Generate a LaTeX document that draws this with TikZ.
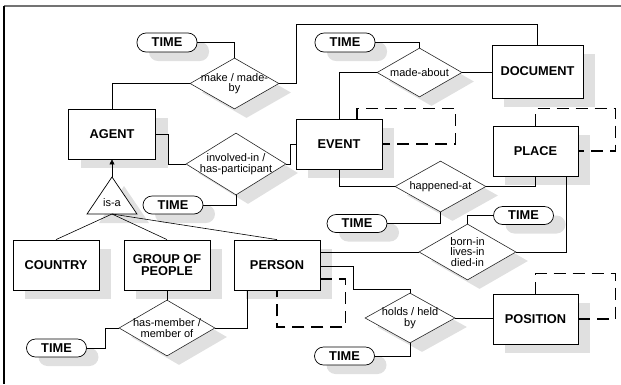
\documentclass[tikz,border=0pt]{standalone}
\usepackage{fontspec}
\setmainfont{Liberation Sans}
\usetikzlibrary{shapes.geometric,shadows,arrows.meta}
\begin{document}
\begin{tikzpicture}[x=1pt,y=-1pt,
  shad/.style={drop shadow={shadow xshift=12pt,shadow yshift=-9pt,fill=black!12,opacity=1,draw=none}},
  ent/.style={shad,draw,fill=white,line width=0.8pt,minimum width=86pt,minimum height=50pt,inner sep=0pt,align=center,font=\bfseries\fontsize{12.8}{12}\selectfont},
  rel/.style={shad,diamond,draw=black!85,fill=white,line width=0.6pt,inner sep=0pt},
  reltext/.style={align=center,font=\fontsize{11}{10.5}\selectfont,inner sep=0pt},
  tim/.style={shad,draw,fill=white,rounded corners=9pt,minimum width=60pt,minimum height=18pt,inner sep=0pt,line width=0.7pt,font=\bfseries\fontsize{12.8}{12}\selectfont},
  conn/.style={line width=0.6pt},
  loopline/.style={line width=1.5pt,dash pattern=on 12pt off 7pt}
]
\useasboundingbox (0,0) rectangle (621,384);
% frame
\draw[black!55,line width=1.5pt] (4,6) -- (621,6);
\draw[line width=1.2pt] (4,6) -- (4,384);

% entities
\node[ent,minimum width=87pt] (agent) at (112,134) {AGENT};
\node[ent] (event) at (339,144) {EVENT};
\node[ent,minimum width=91pt,minimum height=53pt] (document) at (537.5,71.5) {DOCUMENT};
\node[ent,minimum width=85pt] (place) at (535.5,151) {PLACE};
\node[ent] (country) at (56,265) {COUNTRY};
\node[ent] (group) at (167,265) {GROUP OF\\PEOPLE};
\node[ent] (person) at (277,265) {PERSON};
\node[ent,minimum width=85pt] (position) at (535.5,319) {POSITION};

% relationships
\node[rel,minimum width=89pt,minimum height=51pt] (make) at (234.5,83.5) {};
\node[reltext] (maket) at (make) {make / made-\\by};
\node[rel,minimum width=100pt,minimum height=62pt] (involved) at (236,164) {};
\node[reltext] (involvedt) at (involved) {involved-in /\\has-participant};
\node[rel,minimum width=85pt,minimum height=49pt] (madeabout) at (419.5,72.5) {};
\node[reltext] (madeaboutt) at (madeabout) {made-about};
\node[rel,minimum width=91pt,minimum height=51pt] (happened) at (440.5,186.5) {};
\node[reltext] (happenedt) at (happened) {happened-at};
\node[rel,minimum width=97pt,minimum height=56pt] (bornin) at (467.5,252) {};
\node[reltext] (bornint) at (bornin) {born-in\\lives-in\\died-in};
\node[rel,minimum width=90pt,minimum height=50pt] (holds) at (410,318) {};
\node[reltext] (holdst) at (holds) {holds / held\\by};
\node[rel,minimum width=96pt,minimum height=56pt] (hasmember) at (167,328) {};
\node[reltext] (hasmembert) at (hasmember) {has-member /\\member of};

% time attributes
\node[tim,minimum height=19pt] (time1) at (167,42.5) {TIME};
\node[tim] (time2) at (173,205) {TIME};
\node[tim,minimum height=19pt] (time3) at (345,42.5) {TIME};
\node[tim] (time4) at (357,223.5) {TIME};
\node[tim] (time5) at (523.5,215.5) {TIME};
\node[tim] (time6) at (344.5,356) {TIME};
\node[tim] (time7) at (56.5,348) {TIME};

% is-a triangle
\coordinate (isaapex) at (112,177);
\coordinate (isabl) at (87,214);
\coordinate (isabr) at (137,214);
\coordinate (isabase) at (112,214);
\fill[black!12] ([shift={(12pt,-9pt)}]isaapex) -- ([shift={(12pt,-9pt)}]isabl) -- ([shift={(12pt,-9pt)}]isabr) -- cycle;
\draw[fill=white,line width=0.7pt] (isaapex) -- (isabl) -- (isabr) -- cycle;
\node[reltext] (isa) at (112,203) {is-a};

% connectors
\coordinate (c1) at (296,24);
\draw[conn] (time1.east) -| (make.north);
\draw[conn] (agent.north) |- (make.west);
\draw[conn] (make.east) -| (c1) -| (document.north);
\draw[conn] (agent.east) -- ++(12,0) |- (involved.west);
\draw[conn] (involved.east) -- ++(4,0) |- (event.west);
\draw[conn] (involved.south) |- (time2.east);
\draw[conn] (time3.east) -| (madeabout.north);
\draw[conn] (madeabout.west) -| (event.north);
\draw[conn] (madeabout.east) -- (madeabout.east -| document.west);
\draw[conn] (event.south) |- (happened.west);
\draw[conn] (happened.east) -| (place.south);
\draw[conn] (happened.south) |- (time4.east);
\draw[conn] ([xshift=30.5pt]place.south) |- (bornin.east);
\draw[conn] (bornin.north) |- (time5.west);
\draw[conn] (bornin.west) -- (bornin.west -| person.east);
\draw[conn] ([yshift=-1pt]person.east) -- ++(33,0) |- ([yshift=3pt]holds.north) -- (holds.north);
\draw[conn] (holds.east) -- (holds.east -| position.west);
\draw[conn] (holds.south) |- (time6.east);
\draw[conn] (group.south) -- (hasmember.north);
\draw[conn] (hasmember.east) -| ([xshift=-30pt]person.south);
\draw[conn] (hasmember.west) -- ++(-13,0) |- (time7.east);
\draw[conn,-{Triangle[width=5pt,length=5pt]}] (isaapex) -- (agent.south);
\draw[conn] (isabase) -- (country.north);
\draw[conn] (isabase) -- (group.north);
\draw[conn] (isabase) -- (person.north);

% self loops
\draw[loopline] ([xshift=18pt]event.north) -- ++(0,-10) -| ([xshift=73pt]event.east) -- (event.east);
\draw[loopline] (place.north) -- ++(0,-17) -| ([xshift=37pt]place.east) -- (place.east);
\draw[loopline] (position.north) -- ++(0,-20) -| ([xshift=37pt]position.east) -- (position.east);
\draw[loopline] ([yshift=-14pt]person.east) -- ++(25,0) -- ++(0,48) -| (person.south);
\end{tikzpicture}
\end{document}
